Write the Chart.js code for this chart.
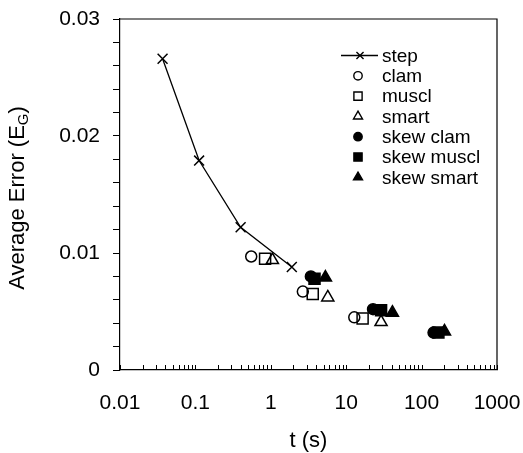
<!DOCTYPE html>
<html><head><meta charset="utf-8">
<script src="https://cdn.jsdelivr.net/npm/chart.js@4.4.1/dist/chart.umd.min.js"></script>
<style>html,body{margin:0;padding:0;background:#fff;}canvas{display:block;}</style>
</head><body>
<canvas id="c" width="523" height="453"></canvas>
<script>
// ---- data (t in seconds, average error E_G) ----
const stepT = [0.0367, 0.112, 0.398, 1.90];
const stepE = [0.0266, 0.0179, 0.0122, 0.0088];
const clamT = [0.55, 2.66, 12.8];
const clamE = [0.0097, 0.0067, 0.0045];
const musclT = [0.84, 3.6, 16.5];
const musclE = [0.0095, 0.0065, 0.0044];
const smartT = [1.05, 5.7, 29];
const smartE = [0.0094, 0.0062, 0.0041];
const skewClamT = [3.4, 22.7, 144];
const skewClamE = [0.0080, 0.0052, 0.0032];
const skewMusclT = [3.8, 29, 167];
const skewMusclE = [0.0078, 0.0051, 0.0032];
const skewSmartT = [5.3, 41, 201];
const skewSmartE = [0.0079, 0.0049, 0.0033];

const seriesLabels = ['step', 'clam', 'muscl', 'smart', 'skew clam', 'skew muscl', 'skew smart'];
const xTickLabels = ['0.01', '0.1', '1', '10', '100', '1000'];
const yTickLabels = ['0', '0.01', '0.02', '0.03'];
const xTitle = 't (s)';
const yTitleMain = 'Average Error (E';
const yTitleSub = 'G';
const yTitleEnd = ')';

const FONT = "'Liberation Sans', Arial, Helvetica, sans-serif";
const BLACK = '#000';
const CLEAR = 'rgba(0,0,0,0)';

function pts(t, e) { return t.map((v, i) => ({ x: v, y: e[i] })); }

const styles = [
  { pointStyle: 'crossRot', r: 7, lr: 5, fill: BLACK },
  { pointStyle: 'circle', r: 5.5, lr: 4.2, fill: CLEAR },
  { pointStyle: 'rect', r: 7.8, lr: 5.8, fill: CLEAR },
  { pointStyle: 'triangle', r: 7, lr: 5.2, fill: CLEAR },
  { pointStyle: 'circle', r: 5.5, lr: 4.2, fill: BLACK },
  { pointStyle: 'rect', r: 7.8, lr: 5.8, fill: BLACK },
  { pointStyle: 'triangle', r: 7, lr: 5.2, fill: BLACK }
];
const seriesData = [
  pts(stepT, stepE), pts(clamT, clamE), pts(musclT, musclE), pts(smartT, smartE),
  pts(skewClamT, skewClamE), pts(skewMusclT, skewMusclE), pts(skewSmartT, skewSmartE)
];

const datasets = seriesData.map((d, i) => ({
  label: seriesLabels[i],
  data: d,
  showLine: i === 0,
  borderColor: BLACK,
  borderWidth: 1.3,
  tension: 0,
  pointStyle: styles[i].pointStyle,
  pointRadius: styles[i].r,
  pointHoverRadius: styles[i].r,
  pointBorderWidth: 1.5,
  pointBorderColor: BLACK,
  pointBackgroundColor: styles[i].fill,
  clip: false
}));

const decorPlugin = {
  id: 'decor',
  afterDraw(chart) {
    const ctx = chart.ctx;
    const a = chart.chartArea;
    const xs = chart.scales.x;
    ctx.save();
    // top and right frame lines
    ctx.strokeStyle = BLACK;
    ctx.lineWidth = 1.2;
    ctx.beginPath();
    ctx.moveTo(a.left, a.top); ctx.lineTo(a.right, a.top); ctx.lineTo(a.right, a.bottom);
    ctx.stroke();
    // inward x ticks
    ctx.lineWidth = 1;
    ctx.beginPath();
    xs.ticks.forEach(t => {
      const px = Math.round(xs.getPixelForValue(t.value)) + 0.5;
      ctx.moveTo(px, a.bottom); ctx.lineTo(px, a.bottom - 5);
    });
    ctx.stroke();

    // legend
    const mx = 358, tx = 382, y0 = 55.5, dy = 20.3;
    ctx.font = '19px ' + FONT;
    ctx.textBaseline = 'middle';
    ctx.textAlign = 'left';
    seriesLabels.forEach((lab, i) => {
      const y = y0 + i * dy;
      ctx.strokeStyle = BLACK; ctx.fillStyle = styles[i].fill; ctx.lineWidth = 1.4;
      if (i === 0) {
        ctx.beginPath(); ctx.moveTo(341, y); ctx.lineTo(378, y); ctx.stroke();
        Chart.helpers.drawPoint(ctx, { pointStyle: 'crossRot', radius: styles[i].lr, borderWidth: 1.4, rotation: 0 }, 360, y);
      } else {
        Chart.helpers.drawPoint(ctx, { pointStyle: styles[i].pointStyle, radius: styles[i].lr, borderWidth: 1.4, rotation: 0 }, mx, y);
      }
      ctx.fillStyle = BLACK;
      ctx.fillText(lab, tx, y + 1);
    });

    // y title with subscript
    const f1 = '22px ' + FONT, f2 = '15px ' + FONT;
    ctx.font = f1; const w1 = ctx.measureText(yTitleMain).width; const w3 = ctx.measureText(yTitleEnd).width;
    ctx.font = f2; const w2 = ctx.measureText(yTitleSub).width;
    const tot = w1 + w2 + w3;
    ctx.translate(16, 198);
    ctx.rotate(-Math.PI / 2);
    ctx.fillStyle = BLACK;
    ctx.textBaseline = 'alphabetic';
    let x = -tot / 2;
    ctx.font = f1; ctx.fillText(yTitleMain, x, 8); x += w1;
    ctx.font = f2; ctx.fillText(yTitleSub, x, 12); x += w2;
    ctx.font = f1; ctx.fillText(yTitleEnd, x, 8);
    ctx.restore();
  }
};

new Chart(document.getElementById('c'), {
  type: 'scatter',
  data: { datasets },
  options: {
    responsive: false,
    animation: false,
    events: [],
    devicePixelRatio: 1,
    layout: { padding: { top: 19, right: 26, left: 0, bottom: 0 } },
    plugins: { legend: { display: false }, tooltip: { enabled: false } },
    scales: {
      x: {
        type: 'logarithmic',
        min: 0.01, max: 1000,
        afterBuildTicks(scale) {
          const t = [];
          for (let e = -2; e <= 2; e++) for (let m = 1; m <= 9; m++) t.push({ value: m * Math.pow(10, e) });
          t.push({ value: 1000 });
          scale.ticks = t;
        },
        afterFit(scale) { scale.height = 83; scale.paddingLeft = 0; scale.paddingRight = 0; },
        grid: { display: false, drawTicks: false },
        border: { display: true, color: BLACK, width: 1.2 },
        ticks: {
          autoSkip: false, maxRotation: 0, minRotation: 0, padding: 21,
          color: BLACK, font: { family: FONT, size: 21 },
          callback(v) {
            const l = Math.log10(v);
            if (Math.abs(l - Math.round(l)) < 1e-9) return xTickLabels[Math.round(l) + 2];
            return '';
          }
        },
        title: { display: true, text: xTitle, color: BLACK, font: { family: FONT, size: 22, lineHeight: 1.1 }, padding: { top: 0, bottom: 0 } }
      },
      y: {
        min: 0, max: 0.03,
        afterFit(scale) { scale.width = 120; scale.paddingTop = 0; scale.paddingBottom = 0; },
        grid: { drawOnChartArea: false, drawTicks: true, tickLength: 7, color: BLACK, lineWidth: 1 },
        border: { display: true, color: BLACK, width: 1.2 },
        ticks: {
          autoSkip: false, stepSize: 0.002, padding: 13, color: BLACK, font: { family: FONT, size: 21 },
          callback(v) {
            const k = v / 0.01;
            if (Math.abs(k - Math.round(k)) < 1e-6) return yTickLabels[Math.round(k)];
            return '';
          }
        },
        title: { display: false }
      }
    }
  },
  plugins: [decorPlugin]
});
</script>
</body></html>
